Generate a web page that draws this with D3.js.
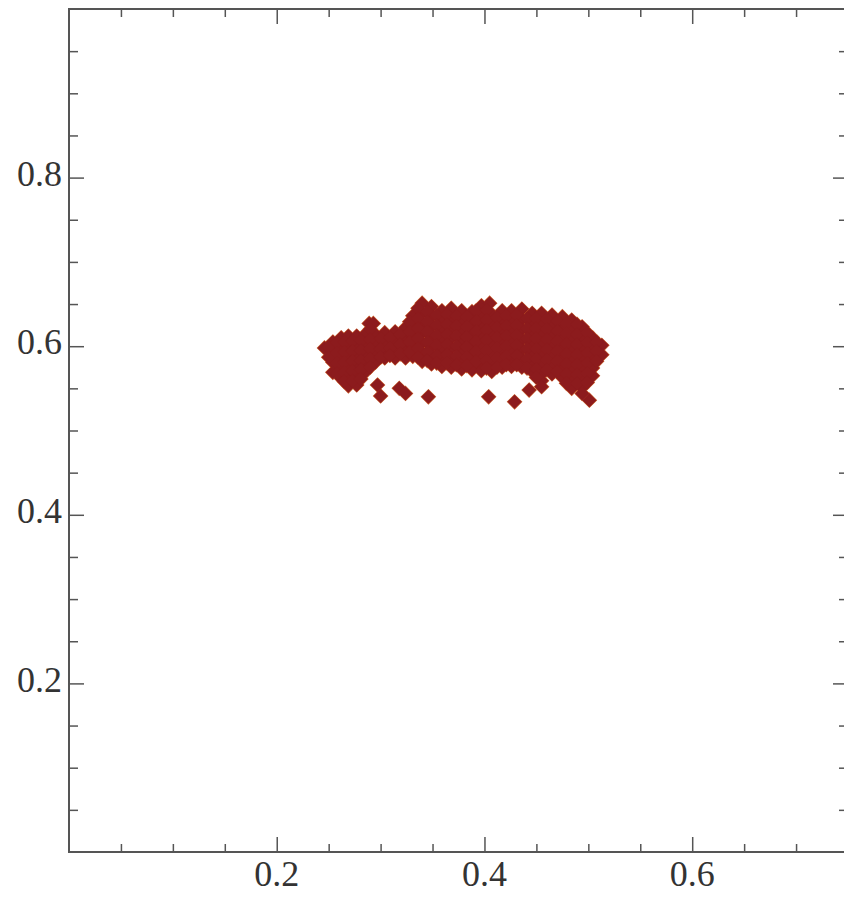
<!DOCTYPE html>
<html>
<head>
<meta charset="utf-8">
<script src="https://cdn.jsdelivr.net/npm/d3@7"></script>
<style>
  body { margin: 0; background: #fff; }
  svg { display: block; }
</style>
</head>
<body>
<script>
// scatter values
const xs = [
  0.246,
  0.254, 0.254, 0.254, 0.254,
  0.262, 0.262, 0.262, 0.262, 0.262,
  0.269, 0.269, 0.269, 0.269, 0.269, 0.269,
  0.277, 0.277, 0.277, 0.277, 0.277, 0.277,
  0.285, 0.285, 0.285, 0.285, 0.285,
  0.289, 0.293,
  0.295, 0.295, 0.295, 0.295,
  0.304, 0.304, 0.304, 0.304,
  0.314, 0.314, 0.314, 0.314,
  0.324, 0.324, 0.324, 0.324,
  0.331, 0.331, 0.331, 0.331, 0.331,
  0.340, 0.340, 0.340, 0.340, 0.340, 0.340, 0.340,
  0.349, 0.349, 0.349, 0.349, 0.349, 0.349, 0.349,
  0.359, 0.359, 0.359, 0.359, 0.359, 0.359, 0.359,
  0.368, 0.368, 0.368, 0.368, 0.368, 0.368, 0.368,
  0.378, 0.378, 0.378, 0.378, 0.378, 0.378, 0.378,
  0.388, 0.388, 0.388, 0.388, 0.388, 0.388, 0.388,
  0.397, 0.397, 0.397, 0.397, 0.397, 0.397, 0.397, 0.397,
  0.405,
  0.407, 0.407, 0.407, 0.407, 0.407, 0.407, 0.407,
  0.417, 0.417, 0.417, 0.417, 0.417, 0.417, 0.417,
  0.426, 0.426, 0.426, 0.426, 0.426, 0.426, 0.426,
  0.436, 0.436, 0.436, 0.436, 0.436, 0.436, 0.436,
  0.446, 0.446, 0.446, 0.446, 0.446, 0.446, 0.446,
  0.455, 0.455, 0.455, 0.455, 0.455, 0.455, 0.455, 0.455,
  0.465, 0.465, 0.465, 0.465, 0.465, 0.465, 0.465,
  0.475, 0.475, 0.475, 0.475, 0.475, 0.475, 0.475,
  0.484, 0.484, 0.484, 0.484, 0.484, 0.484, 0.484, 0.484,
  0.494, 0.494, 0.494, 0.494, 0.494, 0.494, 0.494, 0.494,
  0.504, 0.504, 0.504, 0.504, 0.504,
  0.513, 0.513,
  0.297, 0.300, 0.318, 0.324, 0.346, 0.404, 0.429, 0.443, 0.455, 0.501,
  // points lying between the columns above
  0.250, 0.250,
  0.258, 0.258, 0.258, 0.258,
  0.265, 0.265, 0.265, 0.265, 0.265,
  0.273, 0.273, 0.273, 0.273, 0.273,
  0.281, 0.281, 0.281, 0.281, 0.281,
  0.290, 0.290, 0.290, 0.290, 0.290,
  0.300, 0.300, 0.300,
  0.309, 0.309, 0.309,
  0.319, 0.319, 0.319,
  0.328, 0.328, 0.328, 0.328,
  0.336, 0.336, 0.336, 0.336, 0.336, 0.336,
  0.345, 0.345, 0.345, 0.345, 0.345, 0.345,
  0.354, 0.354, 0.354, 0.354, 0.354, 0.354,
  0.364, 0.364, 0.364, 0.364, 0.364, 0.364,
  0.373, 0.373, 0.373, 0.373, 0.373, 0.373,
  0.383, 0.383, 0.383, 0.383, 0.383, 0.383,
  0.392, 0.392, 0.392, 0.392, 0.392, 0.392,
  0.402, 0.402, 0.402, 0.402, 0.402, 0.402, 0.402,
  0.412, 0.412, 0.412, 0.412, 0.412, 0.412,
  0.421, 0.421, 0.421, 0.421, 0.421, 0.421,
  0.431, 0.431, 0.431, 0.431, 0.431, 0.431,
  0.441, 0.441, 0.441, 0.441, 0.441, 0.441,
  0.450, 0.450, 0.450, 0.450, 0.450, 0.450, 0.450,
  0.460, 0.460, 0.460, 0.460, 0.460, 0.460,
  0.470, 0.470, 0.470, 0.470, 0.470, 0.470,
  0.479, 0.479, 0.479, 0.479, 0.479, 0.479, 0.479,
  0.489, 0.489, 0.489, 0.489, 0.489, 0.489, 0.489,
  0.499, 0.499, 0.499, 0.499, 0.499, 0.499,
  0.508, 0.508, 0.508
];
const ys = [
  0.598,
  0.605, 0.593, 0.581, 0.569,
  0.610, 0.598, 0.586, 0.574, 0.562,
  0.612, 0.600, 0.588, 0.577, 0.565, 0.553,
  0.612, 0.600, 0.588, 0.577, 0.565, 0.554,
  0.614, 0.603, 0.591, 0.579, 0.569,
  0.627, 0.627,
  0.614, 0.603, 0.591, 0.581,
  0.616, 0.604, 0.592, 0.586,
  0.617, 0.605, 0.593, 0.586,
  0.622, 0.610, 0.598, 0.586,
  0.636, 0.624, 0.612, 0.600, 0.588,
  0.651, 0.639, 0.627, 0.616, 0.604, 0.592, 0.582,
  0.647, 0.635, 0.623, 0.611, 0.599, 0.587, 0.579,
  0.642, 0.630, 0.618, 0.606, 0.594, 0.582, 0.576,
  0.645, 0.633, 0.622, 0.610, 0.598, 0.586, 0.575,
  0.642, 0.630, 0.618, 0.606, 0.594, 0.582, 0.573,
  0.641, 0.629, 0.617, 0.605, 0.593, 0.581, 0.572,
  0.648, 0.636, 0.624, 0.612, 0.600, 0.588, 0.577, 0.571,
  0.651,
  0.638, 0.626, 0.614, 0.603, 0.591, 0.579, 0.570,
  0.642, 0.631, 0.619, 0.607, 0.595, 0.584, 0.575,
  0.642, 0.630, 0.618, 0.606, 0.594, 0.582, 0.576,
  0.644, 0.632, 0.620, 0.608, 0.596, 0.585, 0.575,
  0.639, 0.627, 0.615, 0.603, 0.591, 0.579, 0.570,
  0.639, 0.627, 0.615, 0.603, 0.591, 0.579, 0.567, 0.559,
  0.637, 0.625, 0.613, 0.601, 0.590, 0.578, 0.567,
  0.635, 0.623, 0.611, 0.599, 0.587, 0.575, 0.563,
  0.631, 0.619, 0.607, 0.595, 0.584, 0.572, 0.560, 0.550,
  0.623, 0.611, 0.599, 0.587, 0.575, 0.563, 0.551, 0.544,
  0.610, 0.598, 0.586, 0.574, 0.565,
  0.601, 0.590,
  0.554, 0.541, 0.550, 0.544, 0.540, 0.540, 0.534, 0.548, 0.552, 0.536,
  // points lying between the columns above
  0.599, 0.587,
  0.604, 0.592, 0.580, 0.568,
  0.605, 0.593, 0.581, 0.569, 0.558,
  0.606, 0.594, 0.582, 0.571, 0.559,
  0.607, 0.595, 0.583, 0.572, 0.561,
  0.620, 0.608, 0.597, 0.585, 0.575,
  0.609, 0.597, 0.587,
  0.610, 0.598, 0.589,
  0.614, 0.602, 0.591,
  0.629, 0.617, 0.605, 0.593,
  0.645, 0.633, 0.621, 0.609, 0.597, 0.587,
  0.641, 0.629, 0.617, 0.605, 0.593, 0.583,
  0.637, 0.625, 0.613, 0.601, 0.589, 0.580,
  0.638, 0.626, 0.614, 0.602, 0.590, 0.580,
  0.636, 0.624, 0.612, 0.600, 0.588, 0.578,
  0.635, 0.623, 0.611, 0.599, 0.587, 0.577,
  0.642, 0.630, 0.618, 0.606, 0.594, 0.582,
  0.643, 0.631, 0.619, 0.607, 0.595, 0.583, 0.574,
  0.634, 0.622, 0.610, 0.598, 0.586, 0.575,
  0.636, 0.624, 0.612, 0.600, 0.588, 0.578,
  0.637, 0.625, 0.613, 0.601, 0.589, 0.578,
  0.633, 0.621, 0.609, 0.597, 0.585, 0.574,
  0.633, 0.621, 0.609, 0.597, 0.585, 0.573, 0.563,
  0.632, 0.620, 0.608, 0.596, 0.584, 0.572,
  0.630, 0.618, 0.606, 0.594, 0.582, 0.570,
  0.627, 0.615, 0.603, 0.591, 0.579, 0.567, 0.556,
  0.626, 0.614, 0.602, 0.590, 0.578, 0.566, 0.556,
  0.616, 0.604, 0.592, 0.580, 0.568, 0.557,
  0.605, 0.594, 0.582
];

const xMajor = [0.2, 0.4, 0.6];
const xLabels = ["0.2", "0.4", "0.6"];
const yMajor = [0.2, 0.4, 0.6, 0.8];
const yLabels = ["0.2", "0.4", "0.6", "0.8"];
const xMinor = [0.05, 0.1, 0.15, 0.25, 0.3, 0.35, 0.45, 0.5, 0.55, 0.65, 0.7];
const yMinor = [0.05, 0.1, 0.15, 0.25, 0.3, 0.35, 0.45, 0.5, 0.55, 0.65, 0.7, 0.75, 0.85, 0.9, 0.95];

const width = 844, height = 906;
// the right edge of the frame falls just outside the picture
const plotLeft = 69, plotRight = 848, plotTop = 9, plotBottom = 852;

const svg = d3.select("body")
    .append("svg")
    .attr("width", width)
    .attr("height", height);

const x = d3.scaleLinear().domain([0, 0.75]).range([plotLeft, plotRight]);
const y = d3.scaleLinear().domain([0, 1]).range([plotBottom, plotTop]);

const points = xs.map((v, i) => ({x: v, y: ys[i]}));
const r = 7;
const diamond = `M0,${-r}L${r},0L0,${r}L${-r},0Z`;

// orange rim first, solid fill on top so only the outer edge shows
svg.append("g")
    .selectAll("path")
    .data(points)
    .join("path")
    .attr("d", diamond)
    .attr("transform", d => `translate(${x(d.x)},${y(d.y)})`)
    .attr("fill", "#8c1b1d")
    .attr("stroke", "#c65a2a")
    .attr("stroke-width", 1.2);

svg.append("g")
    .attr("fill", "#8c1b1d")
    .selectAll("path")
    .data(points)
    .join("path")
    .attr("d", diamond)
    .attr("transform", d => `translate(${x(d.x)},${y(d.y)})`);

// frame and ticks
const frameColor = "#555";

function tickAxis(axis, pos, values, size) {
    svg.append("g")
        .attr("transform", pos)
        .call(axis.tickValues(values).tickSize(size).tickSizeOuter(0).tickFormat(""))
        .call(g => g.select(".domain").remove())
        .call(g => g.selectAll("line").attr("stroke", frameColor).attr("stroke-width", 1.5));
}

tickAxis(d3.axisBottom(x), `translate(0,${plotBottom})`, xMinor, -8);
tickAxis(d3.axisBottom(x), `translate(0,${plotBottom})`, xMajor, -15);
tickAxis(d3.axisTop(x), `translate(0,${plotTop})`, xMinor, -8);
tickAxis(d3.axisTop(x), `translate(0,${plotTop})`, xMajor, -15);
tickAxis(d3.axisLeft(y), `translate(${plotLeft},0)`, yMinor, -9);
tickAxis(d3.axisLeft(y), `translate(${plotLeft},0)`, yMajor, -15);
tickAxis(d3.axisRight(y), `translate(${plotRight},0)`, yMinor, -9);
tickAxis(d3.axisRight(y), `translate(${plotRight},0)`, yMajor, -15);

svg.append("rect")
    .attr("x", plotLeft)
    .attr("y", plotTop)
    .attr("width", plotRight - plotLeft)
    .attr("height", plotBottom - plotTop)
    .attr("fill", "none")
    .attr("stroke", frameColor)
    .attr("stroke-width", 2);

// tick labels
const font = "'Liberation Serif', 'DejaVu Serif', serif";

svg.append("g")
    .selectAll("text")
    .data(xMajor)
    .join("text")
    .attr("x", d => x(d))
    .attr("y", 878)
    .attr("text-anchor", "middle")
    .attr("dominant-baseline", "middle")
    .attr("font-family", font)
    .attr("font-size", 36)
    .attr("fill", "#333")
    .text((d, i) => xLabels[i]);

svg.append("g")
    .selectAll("text")
    .data(yMajor)
    .join("text")
    .attr("x", 62)
    .attr("y", d => y(d))
    .attr("text-anchor", "end")
    .attr("dominant-baseline", "middle")
    .attr("font-family", font)
    .attr("font-size", 36)
    .attr("fill", "#333")
    .text((d, i) => yLabels[i]);
</script>
</body>
</html>
